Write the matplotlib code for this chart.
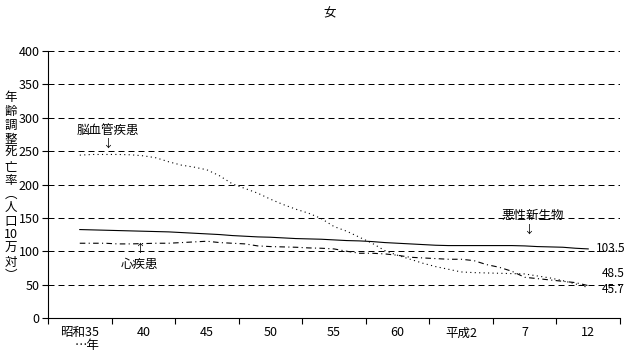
import matplotlib
matplotlib.use("Agg")
import matplotlib.pyplot as plt
from matplotlib.ticker import FixedLocator, NullFormatter

plt.rcParams['font.family'] = ['Noto Sans CJK JP', 'DejaVu Sans']

years = list(range(1960, 2001))
cancer = [132.5, 132, 131.5, 131, 130.5, 130, 129.5, 129, 128, 127,
          126, 125, 123.5, 122.5, 121.5, 121, 120, 119, 118.5, 118,
          117, 116, 115.5, 114.5, 113, 112, 111, 110, 109, 108.5,
          108.5, 108.5, 108.5, 108.5, 108.5, 108, 107, 106.5, 106, 104.5,
          103.5]
heart = [112, 112, 112, 111, 111, 111.5, 112, 112, 113, 114,
         115, 113, 112, 111, 108, 107, 106.5, 106, 105, 104.5,
         103.5, 100, 97, 97, 96, 94, 91, 90, 89, 88,
         88, 86, 80, 76, 70, 61, 59, 57, 55, 53,
         48.5]
cerebro = [244, 245, 245, 245, 244.5, 243, 240, 234, 229, 226,
           222, 213, 201, 194, 187, 178, 170, 163, 157, 149,
           137, 130, 121, 112, 101, 94, 88, 82, 77, 73,
           69, 68, 67.5, 67, 66.5, 66, 63, 60, 56, 51,
           45.7]
tick_years = [1960, 1965, 1970, 1975, 1980, 1985, 1990, 1995, 2000]
tick_labels = ['昭和35\n…年', '40', '45', '50', '55', '60', '平成2', '7', '12']
yticks = [0, 50, 100, 150, 200, 250, 300, 350, 400]

fig = plt.figure(figsize=(6.31, 3.54), dpi=100)
ax = fig.add_axes([48/631, 1-318/354, 572/631, 267/354])

ax.plot(years, cancer, color='black', lw=0.8, ls='-')
ax.plot(years, heart, color='black', lw=0.8, ls=(0, (5, 3, 1, 3)))
ax.plot(years, cerebro, color='black', lw=0.8, ls=(0, (1, 3)))

ax.set_xlim(1957.5, 2002.5)
ax.set_ylim(0, 400)
ax.set_yticks(yticks)
ax.set_yticklabels([str(v) for v in yticks], fontsize=9)
ax.yaxis.grid(True, color='black', lw=0.72, ls=(0, (6, 4)))
ax.set_axisbelow(True)

ax.set_xticks(tick_years)
ax.set_xticklabels(tick_labels, fontsize=9)
ax.tick_params(axis='x', which='major', length=0, pad=6)
ax.xaxis.set_minor_locator(FixedLocator([1957.5 + 5*k for k in range(10)]))
ax.xaxis.set_minor_formatter(NullFormatter())
ax.tick_params(axis='x', which='minor', length=4, width=0.8, direction='out')
ax.tick_params(axis='y', length=4, width=0.8, direction='out', pad=2)
lbl0 = ax.get_xticklabels()[0]
lbl0.set_multialignment('right')
lbl0.set_linespacing(0.95)

for s in ['top', 'right']:
    ax.spines[s].set_visible(False)
for s in ['left', 'bottom']:
    ax.spines[s].set_linewidth(0.8)

fig.text(330/631, 1-14/354, '女', ha='center', va='center', fontsize=9)

ylab = '\n'.join(['年', '齢', '調', '整', '死', '亡', '率', '︵', '人', '口', '10', '万', '対', '︶'])
fig.text(11/631, 1-187/354, ylab, ha='center', va='center', fontsize=9, linespacing=1.07)

# annotations
ax.text(1962.2, 281, '脳血管疾患', ha='center', va='center', fontsize=9)
ax.text(1962.2, 262, '↓', ha='center', va='center', fontsize=8)
ax.text(1964.7, 80, '心疾患', ha='center', va='center', fontsize=9)
ax.text(1964.7, 104, '↑', ha='center', va='center', fontsize=8)
ax.text(1995.6, 153, '悪性新生物', ha='center', va='center', fontsize=9)
ax.text(1995.3, 132, '↓', ha='center', va='center', fontsize=8)

ax.text(2002.9, 103.5, '103.5', ha='right', va='center', fontsize=8.5, clip_on=False)
ax.text(2002.9, 66, '48.5', ha='right', va='center', fontsize=8.5, clip_on=False)
ax.text(2002.9, 42, '45.7', ha='right', va='center', fontsize=8.5, clip_on=False)

fig.savefig('out.png', dpi=100)
